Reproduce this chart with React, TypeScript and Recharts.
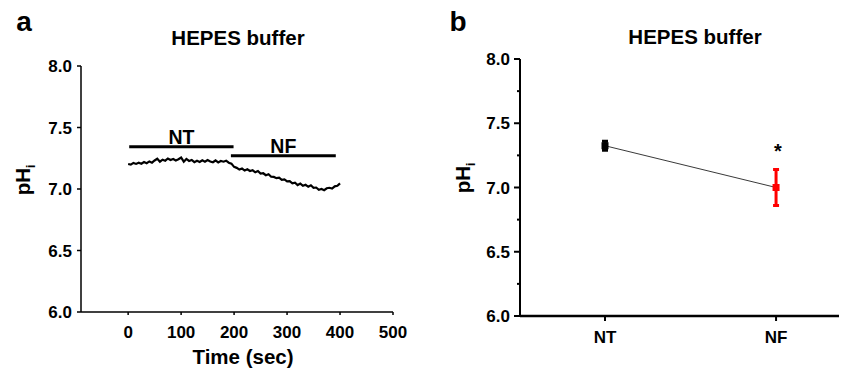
import React from 'react';
import { ComposedChart, ErrorBar, Line, LineChart, ReferenceLine, Scatter, XAxis, YAxis } from 'recharts';

// panel a: pHi trace, time in seconds (every 5 s)
const traceTime = [
  0, 5, 10, 15, 20, 25, 30, 35, 40, 45, 50, 55, 60, 65, 70, 75, 80, 85, 90, 95,
  100, 105, 110, 115, 120, 125, 130, 135, 140, 145, 150, 155, 160, 165, 170, 175, 180, 185, 190, 195,
  200, 205, 210, 215, 220, 225, 230, 235, 240, 245, 250, 255, 260, 265, 270, 275, 280, 285, 290, 295,
  300, 305, 310, 315, 320, 325, 330, 335, 340, 345, 350, 355, 360, 365, 370, 375, 380, 385, 390, 395, 400,
];
const tracePh = [
  7.203, 7.198, 7.212, 7.204, 7.214, 7.206, 7.219, 7.21, 7.224, 7.214, 7.232, 7.246, 7.222, 7.238, 7.23, 7.248, 7.236, 7.244, 7.232, 7.242,
  7.256, 7.222, 7.244, 7.228, 7.236, 7.218, 7.23, 7.22, 7.234, 7.222, 7.236, 7.224, 7.218, 7.232, 7.216, 7.228, 7.222, 7.23, 7.214, 7.206,
  7.18, 7.172, 7.158, 7.166, 7.15, 7.16, 7.146, 7.152, 7.136, 7.146, 7.126, 7.128, 7.112, 7.12, 7.1, 7.098, 7.088, 7.092, 7.074, 7.078,
  7.062, 7.064, 7.046, 7.052, 7.032, 7.044, 7.026, 7.034, 7.018, 7.03, 7.01, 7.012, 6.994, 7.0, 6.99, 7.006, 7.01, 7.004, 7.022, 7.026, 7.046,
];
const timeTicks = [0, 100, 200, 300, 400, 500];
const phTicks = [6.0, 6.5, 7.0, 7.5, 8.0];

// perfusion periods drawn as bars above the trace
const periodLabels = ['NT', 'NF'];
const periodStart = [2, 194];
const periodEnd = [199, 392];
const periodLevel = [7.344, 7.271];

// panel b: mean ± error
const groups = ['NT', 'NF'];
const groupMeans = [7.325, 7.0];
const groupErrors = [0.035, 0.14];
const groupColors = ['#000000', '#ff0000'];
const phTicksFine = [6.0, 6.25, 6.5, 6.75, 7.0, 7.25, 7.5, 7.75, 8.0];

const font = '"Liberation Sans", Arial, Helvetica, sans-serif';
const traceData = traceTime.map((t, i) => ({ t, ph: tracePh[i] }));
const groupData = groups.map((g, i) => ({ x: i, y: groupMeans[i], err: groupErrors[i] }));

function Txt({ x, y, size, children, rotate }: { x: number; y: number; size: number; children: React.ReactNode; rotate?: boolean }) {
  return (
    <div
      style={{
        position: 'absolute', left: x, top: y, fontFamily: font, fontWeight: 'bold', fontSize: size,
        whiteSpace: 'nowrap', lineHeight: 1, color: '#000',
        transform: `translate(-50%, -50%)${rotate ? ' rotate(-90deg)' : ''}`,
      }}
    >
      {children}
    </div>
  );
}

const tickStyle = { fill: '#000', fontSize: 17, fontWeight: 'bold', fontFamily: font };

function FineTick(props: any) {
  const { x, y, payload } = props;
  const major = Math.abs(payload.value * 2 - Math.round(payload.value * 2)) < 1e-6;
  const ax = x + 10;
  return (
    <g>
      <line x1={ax} x2={ax - (major ? 6 : 3)} y1={y} y2={y} stroke="#000" strokeWidth={2} />
      {major && (
        <text x={x} y={y} dy="0.36em" textAnchor="end" {...tickStyle}>
          {payload.value.toFixed(1)}
        </text>
      )}
    </g>
  );
}

export default function App() {
  return (
    <div style={{ position: 'absolute', left: 0, top: 0, width: 842, height: 373, background: '#fff' }}>
      <Txt x={24} y={22} size={28}>a</Txt>
      <Txt x={238} y={38} size={20.5}>HEPES buffer</Txt>
      <Txt x={25} y={180} size={20.5} rotate>pH<sub style={{ fontSize: 12 }}>i</sub></Txt>
      <Txt x={243} y={357} size={20.5}>Time (sec)</Txt>

      <div style={{ position: 'absolute', left: 0, top: 0 }}>
        <LineChart width={420} height={373} data={traceData} margin={{ top: 66, right: 27, bottom: 31, left: 0 }}>
          <XAxis
            type="number" dataKey="t" domain={[-89, 500]} ticks={timeTicks} allowDataOverflow
            height={30} tickMargin={11} tick={tickStyle} axisLine={{ stroke: '#000', strokeWidth: 1.5 }}
            tickLine={{ stroke: '#000', strokeWidth: 1.5 }} tickSize={3}
          />
          <YAxis
            type="number" domain={[6, 8]} ticks={phTicks} width={81} tickMargin={5} tickSize={4}
            tickFormatter={(v: number) => v.toFixed(1)} tick={tickStyle}
            axisLine={{ stroke: '#000', strokeWidth: 1.5 }} tickLine={{ stroke: '#000', strokeWidth: 1.5 }}
          />
          {periodLabels.map((lab, i) => (
            <ReferenceLine
              key={lab}
              segment={[{ x: periodStart[i], y: periodLevel[i] }, { x: periodEnd[i], y: periodLevel[i] }]}
              stroke="#000" strokeWidth={3}
              label={{ value: lab, position: 'top', offset: 3, fill: '#000', fontSize: 19.5, fontWeight: 'bold', fontFamily: font }}
            />
          ))}
          <Line type="linear" dataKey="ph" stroke="#000" strokeWidth={2.2} dot={false} isAnimationActive={false} />
        </LineChart>
      </div>

      <Txt x={458} y={22} size={28}>b</Txt>
      <Txt x={695} y={37} size={20.5}>HEPES buffer</Txt>
      <Txt x={465} y={178} size={20.5} rotate>pH<sub style={{ fontSize: 12 }}>i</sub></Txt>
      <Txt x={778} y={151} size={20}>*</Txt>

      <div style={{ position: 'absolute', left: 420, top: 0 }}>
        <ComposedChart width={422} height={373} data={groupData} margin={{ top: 59, right: 3, bottom: 27, left: 0 }}>
          <XAxis
            type="number" dataKey="x" domain={[-0.497, 1.368]} ticks={[0, 1]} allowDataOverflow
            tickFormatter={(v: number) => groups[v] ?? ''} height={30} tickMargin={10} tickSize={5}
            tick={tickStyle} axisLine={{ stroke: '#000', strokeWidth: 2.5 }} tickLine={{ stroke: '#000', strokeWidth: 2 }}
          />
          <YAxis
            type="number" dataKey="y" domain={[6, 8]} ticks={phTicksFine} width={100} tickSize={6} tickMargin={4}
            tick={<FineTick />} tickLine={false} axisLine={{ stroke: '#000', strokeWidth: 2 }}
          />
          <Line type="linear" dataKey="y" stroke="#222" strokeWidth={0.9} dot={false} isAnimationActive={false} />
          {groups.map((g, i) => (
            <Scatter
              key={g}
              data={[groupData[i]]}
              fill={groupColors[i]}
              isAnimationActive={false}
              shape={(p: any) => <rect x={p.cx - 3.5} y={p.cy - 3.5} width={7} height={7} fill={groupColors[i]} />}
            >
              <ErrorBar dataKey="err" direction="y" width={3} strokeWidth={3} stroke={groupColors[i]} />
            </Scatter>
          ))}
        </ComposedChart>
      </div>
    </div>
  );
}
